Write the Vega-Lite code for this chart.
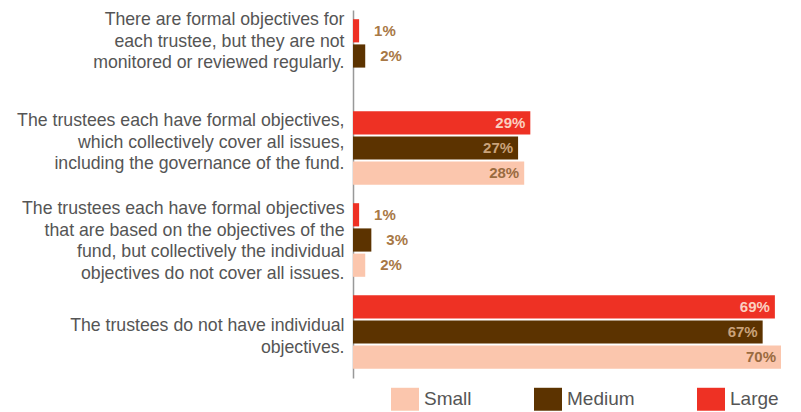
{
  "$schema": "https://vega.github.io/schema/vega-lite/v6.json",
  "autosize": "none",
  "width": 428,
  "height": 368,
  "padding": {"left": 353, "top": 10, "right": 20, "bottom": 34},
  "background": "white",
  "config": {"view": {"stroke": null}, "font": "Liberation Sans"},
  "data": {
    "values": [
      {"q": "There are formal objectives for|each trustee, but they are not|monitored or reviewed regularly.", "size": "Large", "pct": 0.01},
      {"q": "There are formal objectives for|each trustee, but they are not|monitored or reviewed regularly.", "size": "Medium", "pct": 0.02},
      {"q": "The trustees each have formal objectives,|which collectively cover all issues,|including the governance of the fund.", "size": "Large", "pct": 0.29},
      {"q": "The trustees each have formal objectives,|which collectively cover all issues,|including the governance of the fund.", "size": "Medium", "pct": 0.27},
      {"q": "The trustees each have formal objectives,|which collectively cover all issues,|including the governance of the fund.", "size": "Small", "pct": 0.28},
      {"q": "The trustees each have formal objectives|that are based on the objectives of the|fund, but collectively the individual|objectives do not cover all issues.", "size": "Large", "pct": 0.01},
      {"q": "The trustees each have formal objectives|that are based on the objectives of the|fund, but collectively the individual|objectives do not cover all issues.", "size": "Medium", "pct": 0.03},
      {"q": "The trustees each have formal objectives|that are based on the objectives of the|fund, but collectively the individual|objectives do not cover all issues.", "size": "Small", "pct": 0.02},
      {"q": "The trustees do not have individual|objectives.", "size": "Large", "pct": 0.69},
      {"q": "The trustees do not have individual|objectives.", "size": "Medium", "pct": 0.67},
      {"q": "The trustees do not have individual|objectives.", "size": "Small", "pct": 0.70}
    ]
  },
  "encoding": {
    "y": {
      "field": "q", "type": "nominal", "sort": null,
      "scale": {"paddingInner": 0.2, "paddingOuter": 0.1},
      "axis": {
        "title": null, "ticks": false, "grid": false,
        "domainColor": "#999999", "domainWidth": 1.5,
        "labelExpr": "split(datum.value, '|')",
        "labelFontSize": 17.7, "labelLineHeight": 21.5, "labelColor": "#555555",
        "labelPadding": 9, "labelLimit": 0, "labelAlign": "right", "labelBaseline": "middle",
        "labelOffset": {
          "condition": [
            {"test": "indexof(datum.value, 'There are') === 0", "value": -36},
            {"test": "indexof(datum.value, 'The trustees each have formal objectives,') === 0", "value": -27},
            {"test": "indexof(datum.value, 'The trustees do not') === 0", "value": -6}
          ],
          "value": -31
        }
      }
    },
    "yOffset": {"field": "size", "type": "nominal", "sort": ["Large", "Medium", "Small"], "scale": {"paddingInner": 0.08}},
    "x": {"field": "pct", "type": "quantitative", "scale": {"domain": [0, 0.7], "nice": false}, "axis": null}
  },
  "layer": [
    {
      "mark": {"type": "bar"},
      "encoding": {
        "color": {
          "field": "size", "type": "nominal",
          "scale": {"domain": ["Small", "Medium", "Large"], "range": ["#fbc6ad", "#5c3300", "#ee3124"]},
          "legend": {
            "title": null, "orient": "none", "direction": "horizontal",
            "legendX": 38, "legendY": 375, "padding": 0,
            "symbolType": "M-1,-0.82H1V0.82H-1Z", "symbolSize": 784, "symbolStrokeWidth": 0,
            "labelFontSize": 19, "labelColor": "#555555", "labelOffset": 5,
            "columnPadding": 62, "labelFont": "Liberation Sans"
          }
        }
      }
    },
    {
      "transform": [{"filter": "datum.pct >= 0.1"}],
      "mark": {"type": "text", "align": "right", "baseline": "middle", "dx": -5, "fontSize": 15, "fontWeight": "bold"},
      "encoding": {
        "text": {"field": "pct", "type": "quantitative", "format": ".0%"},
        "color": {
          "condition": [
            {"test": "datum.size === 'Large'", "value": "#fbd0c0"},
            {"test": "datum.size === 'Medium'", "value": "#c9a27a"}
          ],
          "value": "#9a6b40"
        }
      }
    },
    {
      "transform": [{"filter": "datum.pct < 0.1"}],
      "mark": {"type": "text", "align": "left", "baseline": "middle", "dx": 15, "fontSize": 15, "fontWeight": "bold", "color": "#a87846"},
      "encoding": {
        "text": {"field": "pct", "type": "quantitative", "format": ".0%"}
      }
    }
  ]
}
